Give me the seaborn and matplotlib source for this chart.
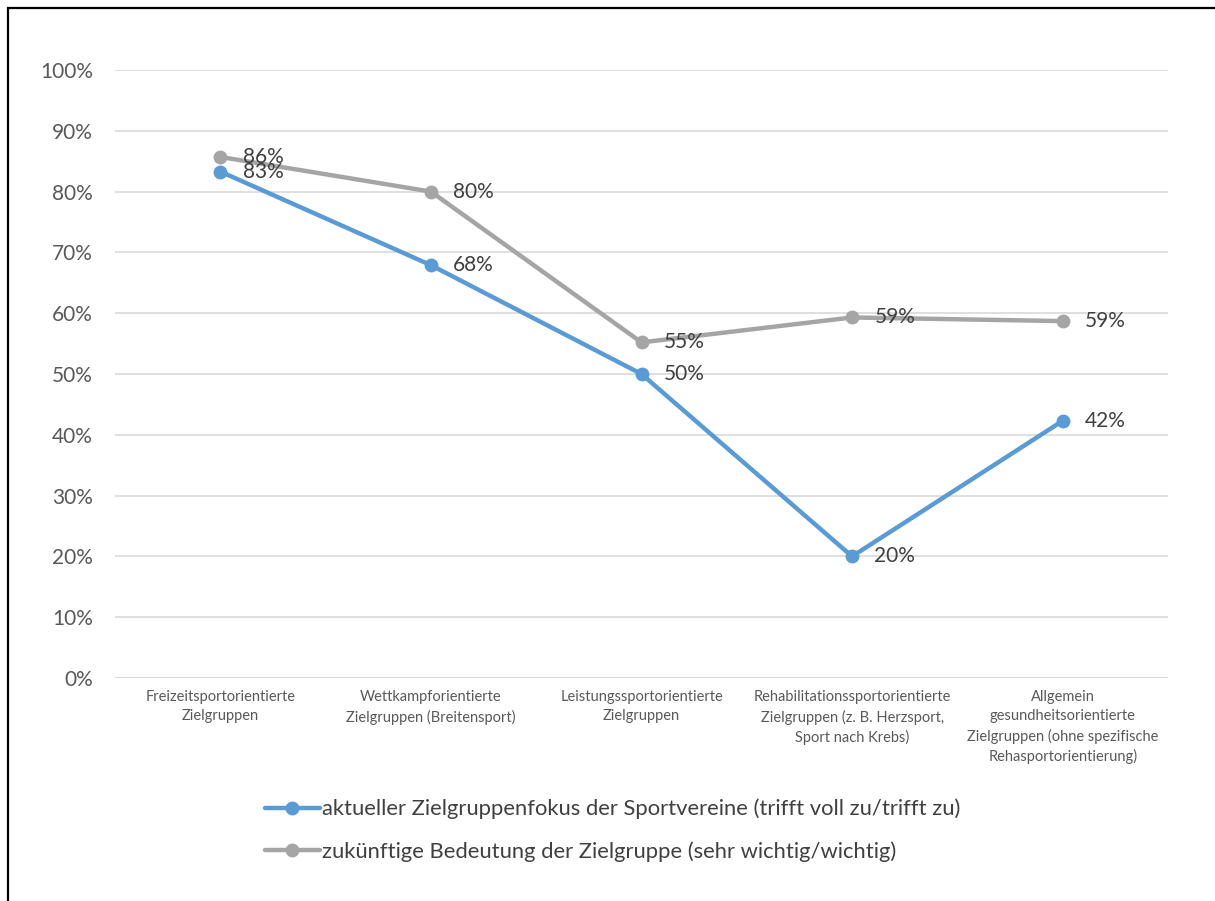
import matplotlib
matplotlib.use("Agg")
import matplotlib.pyplot as plt
import seaborn as sns
import pandas as pd
from matplotlib.patches import Rectangle
from matplotlib.lines import Line2D

categories = [
    "Freizeitsportorientierte\nZielgruppen",
    "Wettkampforientierte\nZielgruppen (Breitensport)",
    "Leistungssportorientierte\nZielgruppen",
    "Rehabilitationssportorientierte\nZielgruppen (z. B. Herzsport,\nSport nach Krebs)",
    "Allgemein\ngesundheitsorientierte\nZielgruppen (ohne spezifische\nRehasportorientierung)",
]
series_names = [
    "aktueller Zielgruppenfokus der Sportvereine (trifft voll zu/trifft zu)",
    "zukünftige Bedeutung der Zielgruppe (sehr wichtig/wichtig)",
]
aktuell = [83.3, 67.9, 50.0, 20.0, 42.3]
zukunft = [85.7, 80.0, 55.2, 59.3, 58.7]
labels_aktuell = ["83%", "68%", "50%", "20%", "42%"]
labels_zukunft = ["86%", "80%", "55%", "59%", "59%"]
yticks = [0, 10, 20, 30, 40, 50, 60, 70, 80, 90, 100]

sns.set_style("white")
plt.rcParams["font.family"] = ["Lato", "DejaVu Sans"]

df = pd.DataFrame({
    "x": list(range(5)) * 2,
    "value": aktuell + zukunft,
    "series": [series_names[0]] * 5 + [series_names[1]] * 5,
})
palette = {series_names[0]: "#5B9BD5", series_names[1]: "#A5A5A5"}

W, H = 1215, 901
fig = plt.figure(figsize=(W / 100, H / 100), dpi=100)
ax = fig.add_axes([115 / W, 1 - 678 / H, (1168 - 115) / W, (678 - 70) / H])

sns.lineplot(data=df, x="x", y="value", hue="series", palette=palette,
             hue_order=[series_names[1], series_names[0]],
             marker="o", markersize=10, markeredgewidth=0, linewidth=3.2,
             ax=ax, legend=False, sort=False)

for xi, (v, lab) in enumerate(zip(aktuell, labels_aktuell)):
    ax.annotate(lab, (xi, v), xytext=(16, 0), textcoords="offset points",
                va="center", ha="left", fontsize=15, color="#404040")
for xi, (v, lab) in enumerate(zip(zukunft, labels_zukunft)):
    ax.annotate(lab, (xi, v), xytext=(16, 0), textcoords="offset points",
                va="center", ha="left", fontsize=15, color="#404040")

ax.set_xlim(-0.5, 4.5)
ax.set_ylim(0, 100)
ax.set_yticks(yticks)
ax.set_yticklabels([f"{t}%" for t in yticks], fontsize=15, color="#595959")
ax.set_xticks(range(5))
ax.set_xticklabels(categories, fontsize=10.5, color="#595959", linespacing=1.45)
ax.tick_params(axis="y", length=0, pad=16)
ax.tick_params(axis="x", length=0, pad=9)
ax.grid(axis="y", color="#d9d9d9", linewidth=1.2)
ax.set_axisbelow(True)
for s in ax.spines.values():
    s.set_visible(False)
ax.axhline(0, color="#d9d9d9", linewidth=1.5, zorder=0)
ax.set_xlabel("")
ax.set_ylabel("")

handles = [Line2D([0], [0], color=palette[n], linewidth=3.2, marker="o",
                  markersize=10, markeredgewidth=0) for n in series_names]
fig.legend(handles, series_names, loc="upper left",
           bbox_to_anchor=(256 / W, 1 - 790 / H), frameon=False,
           fontsize=15.8, labelcolor="#404040", handlelength=2.5,
           handletextpad=0.12, labelspacing=1.0, borderaxespad=0)

fig.patches.append(Rectangle((8 / W, -0.1), 1.2, (H - 8) / H + 0.1,
                             transform=fig.transFigure, fill=False,
                             edgecolor="black", linewidth=1.6))

fig.savefig("out.png", dpi=100)
